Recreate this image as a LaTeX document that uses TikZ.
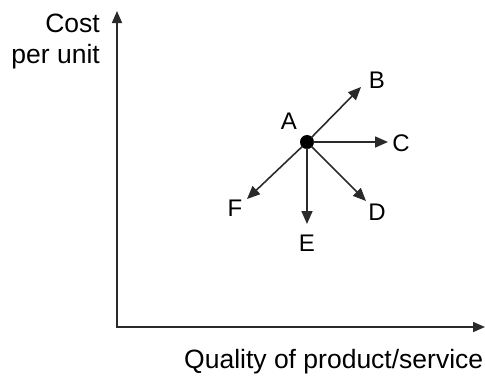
\documentclass[tikz,border=0pt]{standalone}
\usepackage{fontspec}
\setmainfont{Liberation Sans}
\usetikzlibrary{arrows.meta}
\definecolor{ink}{HTML}{2A2A2A}
\begin{document}
\begin{tikzpicture}[x=1pt,y=-1pt,
  lbl/.style={inner sep=0pt,font=\fontsize{26.5}{31}\selectfont,text=black},
  pt/.style={inner sep=0pt,font=\fontsize{24}{29}\selectfont,text=black},
  axis/.style={draw=ink,line width=1.6pt,{Triangle[length=12pt,width=10pt]}-{Triangle[length=12pt,width=10pt]}},
  move/.style={draw=ink,line width=1.6pt,-{Triangle[length=13pt,width=11pt]},shorten <=-1pt}]
\useasboundingbox (0,0) rectangle (485,376);
% axes
\coordinate (ytop) at (117,11);
\coordinate (xend) at (485,327);
\draw[axis,line join=miter] (ytop) |- (xend);
% axis labels
\node[lbl,anchor=base east] (cost) at (100,32) {Cost};
\node[lbl,anchor=base east] (perunit) at (100,63) {per unit};
\node[lbl,anchor=base west] (quality) at (184,368) {Quality of product/service};
% point A
\node[circle,fill=black,inner sep=0pt,minimum size=14pt] (dot) at (307,142) {};
\node[pt] (A) at (289,121) {A};
% tips
\coordinate (tB) at (361,87);
\coordinate (tC) at (388,142);
\coordinate (tD) at (366,201);
\coordinate (tE) at (307,224);
\coordinate (tF) at (247,199);
\draw[move] (dot) -- (tB);
\draw[move] (dot) -- (tC);
\draw[move] (dot) -- (tD);
\draw[move] (dot) -- (tE);
\draw[move] (dot) -- (tF);
% labels
\node[pt] (B) at (377,80) {B};
\node[pt] (C) at (401,143) {C};
\node[pt] (D) at (377,212) {D};
\node[pt] (E) at (307,243) {E};
\node[pt] (F) at (235,208) {F};
\end{tikzpicture}
\end{document}
